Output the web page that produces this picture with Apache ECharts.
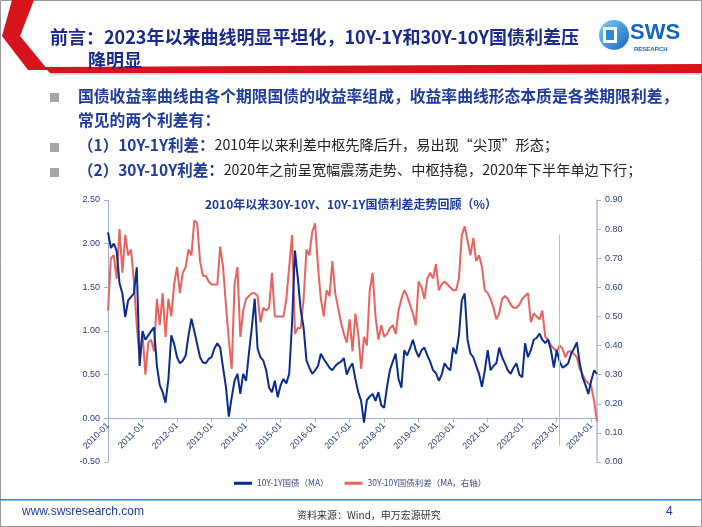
<!DOCTYPE html>
<html><head><meta charset="utf-8">
<script src="https://cdn.jsdelivr.net/npm/echarts@6/dist/echarts.min.js"></script>
<style>html,body{margin:0;padding:0;background:#fff}#c{width:702px;height:527px}</style>
</head><body><div id="c"></div>
<script>
// month categories 2010-01 .. 2024-03
const months = [];
for (let y = 2010; y <= 2024; y++) { for (let m = 1; m <= 12; m++) { if (y === 2024 && m > 3) break; months.push(y + '-' + (m < 10 ? '0' + m : m)); } }

const spread10y1y = [
2.13,1.95,2.00,1.92,1.55,1.43,1.16,1.35,1.39,1.43,
1.73,0.60,1.00,0.90,0.95,1.00,1.04,0.60,0.38,0.30,
0.18,0.45,0.95,0.85,0.70,0.63,0.66,0.72,0.95,1.14,
1.00,0.85,0.70,0.64,0.63,0.68,0.70,0.80,0.86,0.81,
0.58,0.36,0.02,0.24,0.43,0.51,0.28,0.51,0.43,0.75,
1.04,1.37,0.80,0.70,0.66,0.55,0.35,0.30,0.43,0.24,
0.38,0.45,0.40,0.51,1.10,1.92,1.60,1.24,1.04,0.66,
0.58,0.51,0.55,0.60,0.74,0.68,0.63,0.58,0.55,0.60,
0.63,0.65,0.69,0.50,0.58,0.63,0.45,0.30,0.20,-0.05,
0.21,0.25,0.28,0.20,0.30,0.15,0.12,0.36,0.55,0.65,
0.74,0.45,0.35,0.78,0.72,0.80,0.90,0.78,0.70,0.78,
0.81,0.72,0.65,0.55,0.52,0.43,0.50,0.63,0.58,0.55,
0.81,0.74,0.95,1.35,1.43,0.90,0.74,0.70,0.60,0.51,
0.36,0.55,0.78,0.55,0.60,0.63,0.81,0.70,0.63,0.55,
0.51,0.58,0.63,0.50,0.47,0.86,0.70,0.78,0.90,0.92,
0.97,0.90,0.86,0.90,0.78,0.58,0.78,0.65,0.58,0.60,
0.63,0.74,0.80,0.87,0.63,0.47,0.38,0.28,0.43,0.55,
0.51];

const spread30y10y = [
0.52,0.70,0.71,0.63,0.80,0.65,0.78,0.71,0.73,0.62,
0.47,0.35,0.44,0.30,0.41,0.42,0.38,0.56,0.47,0.58,
0.43,0.56,0.50,0.61,0.67,0.58,0.65,0.67,0.73,0.71,
0.83,0.82,0.69,0.64,0.64,0.62,0.61,0.61,0.61,0.74,
0.67,0.54,0.42,0.32,0.61,0.67,0.43,0.52,0.56,0.57,
0.58,0.58,0.57,0.48,0.53,0.52,0.53,0.65,0.50,0.50,
0.50,0.50,0.56,0.67,0.78,0.44,0.46,0.46,0.56,0.73,
0.71,0.79,0.82,0.67,0.56,0.50,0.59,0.57,0.69,0.58,
0.53,0.48,0.44,0.41,0.49,0.38,0.51,0.44,0.32,0.43,
0.40,0.59,0.65,0.50,0.42,0.47,0.43,0.44,0.46,0.47,
0.44,0.52,0.56,0.59,0.57,0.54,0.51,0.47,0.62,0.60,
0.56,0.63,0.65,0.63,0.68,0.59,0.61,0.62,0.61,0.60,
0.59,0.59,0.63,0.78,0.81,0.76,0.71,0.77,0.69,0.71,
0.67,0.59,0.58,0.56,0.53,0.49,0.51,0.56,0.57,0.56,
0.54,0.53,0.53,0.54,0.56,0.57,0.58,0.48,0.51,0.50,
0.49,0.52,0.43,0.42,0.40,0.39,0.38,0.40,0.39,0.36,
0.38,0.38,0.37,0.36,0.32,0.30,0.28,0.27,0.26,0.21,
0.14];

const seriesNames = ['10Y-1Y国债（MA）', '30Y-10Y国债利差（MA，右轴）'];
const markMonth = '2023-02';

const CJK = '"Noto Sans CJK SC", "Noto Sans", sans-serif';
const LAT = '"Liberation Sans", Arial, sans-serif';
const NAVY = '#1f3c99';
const axisClr = '#9fb0d2';
const lblClr = '#2b3d7d';

const chart = echarts.init(document.getElementById('c'), null, {renderer: 'canvas'});
chart.setOption({
  animation: false,
  backgroundColor: '#fff',
  title: {
    text: '2010年以来30Y-10Y、10Y-1Y国债利差走势回顾（%）',
    left: 'center', top: 193,
    textStyle: {fontFamily: CJK, fontSize: 12, fontWeight: 'bold', color: '#1b3a9c'}
  },
  legend: {
    left: 229, top: 474, itemWidth: 18, itemHeight: 3, itemGap: 16,
    icon: 'rect',
    textStyle: {fontFamily: CJK, fontSize: 8.5, color: '#3b4a7d'},
    data: seriesNames
  },
  grid: {left: 108, right: 105, top: 200, bottom: 65},
  xAxis: {
    type: 'category', data: months, boundaryGap: false, position: 'bottom', offset: -43.7,
    axisLine: {onZero: false, lineStyle: {color: axisClr, width: 1}},
    axisTick: {show: true, interval: 11, length: 4, lineStyle: {color: axisClr}},
    axisLabel: {interval: 11, rotate: 45, fontSize: 9, color: lblClr, fontFamily: LAT, margin: 6},
    splitLine: {show: false}
  },
  yAxis: [
    {type: 'value', min: -0.5, max: 2.5, interval: 0.5,
     axisLine: {show: true, lineStyle: {color: axisClr}},
     axisTick: {show: true, length: 4, lineStyle: {color: axisClr}},
     axisLabel: {formatter: v => v.toFixed(2), fontSize: 9, color: lblClr, fontFamily: LAT, margin: 8},
     splitLine: {show: false}},
    {type: 'value', min: 0, max: 0.9, interval: 0.1,
     axisLine: {show: true, lineStyle: {color: '#a9bde0', width: 1.5}},
     axisTick: {show: true, length: 4, lineStyle: {color: axisClr}},
     axisLabel: {formatter: v => v.toFixed(2), fontSize: 9, color: lblClr, fontFamily: LAT, margin: 8},
     splitLine: {show: false}}
  ],
  series: [
    {name: seriesNames[1], type: 'line', yAxisIndex: 1, data: spread30y10y, symbol: 'none',
     lineStyle: {color: '#e8625e', width: 2}, itemStyle: {color: '#e8625e'}, z: 2},
    {name: seriesNames[0], type: 'line', yAxisIndex: 0, data: spread10y1y, symbol: 'none',
     lineStyle: {color: '#0b2c8f', width: 2}, itemStyle: {color: '#0b2c8f'}, z: 3,
     markLine: {silent: true, symbol: 'none', label: {show: false},
       lineStyle: {color: '#c4c47a', width: 1, type: 'solid'},
       data: [[{coord: [markMonth, 2.10]}, {coord: [markMonth, -0.31]}]]}}
  ],
  graphic: [
    {type: 'rect', shape: {x: 0.5, y: 0.5, width: 701, height: 526}, style: {fill: 'none', stroke: '#9a9a9a', lineWidth: 1}, z: -10},
    {type: 'polygon', shape: {points: [[12,0],[34,0],[20,36],[48,70],[28,70],[2,36]]}, style: {fill: '#d7141c'}},
    {type: 'polygon', shape: {points: [[44,67],[702,64],[702,73],[50,73]]}, style: {fill: '#d7141c'}},
    {type: 'rect', shape: {x: 50, y: 73, width: 652, height: 2}, style: {fill: '#d9d9d9'}},
    {type: 'text', left: 50, top: 28, style: {text: '前言：2023年以来曲线明显平坦化，10Y-1Y和30Y-10Y国债利差压', fontFamily: CJK, fontSize: 18, fontWeight: 'bold', fill: '#1a2a8a'}},
    {type: 'text', left: 88, top: 51, style: {text: '降明显', fontFamily: CJK, fontSize: 18, fontWeight: 'bold', fill: '#1a2a8a'}},
    // logo
    {type: 'circle', shape: {cx: 614, cy: 35, r: 15}, style: {fill: new echarts.graphic.LinearGradient(0,0,1,1,[{offset:0,color:'#7fd0f5'},{offset:1,color:'#1565c0'}])}},
    {type: 'rect', shape: {x: 603, y: 27, width: 14, height: 16}, style: {fill: '#fff'}},
    {type: 'rect', shape: {x: 606, y: 30, width: 8, height: 10}, style: {fill: '#2a8ad6'}},
    {type: 'text', left: 630, top: 22, style: {text: 'SWS', fontFamily: LAT, fontSize: 22, fontWeight: 'bold', fill: '#1565c0'}},
    {type: 'text', left: 634, top: 46, style: {text: 'RESEARCH', fontFamily: LAT, fontSize: 6, fontWeight: 'bold', fill: '#1565c0'}},
    // bullets
    {type: 'rect', shape: {x: 50, y: 93, width: 9, height: 9}, style: {fill: '#a6a6a6'}},
    {type: 'rect', shape: {x: 50, y: 143, width: 9, height: 9}, style: {fill: '#a6a6a6'}},
    {type: 'rect', shape: {x: 50, y: 168, width: 9, height: 9}, style: {fill: '#a6a6a6'}},
    {type: 'text', left: 78, top: 88, style: {text: '国债收益率曲线由各个期限国债的收益率组成，收益率曲线形态本质是各类期限利差，', fontFamily: CJK, fontSize: 15.8, fontWeight: 'bold', fill: NAVY}},
    {type: 'text', left: 78, top: 112, style: {text: '常见的两个利差有：', fontFamily: CJK, fontSize: 15.8, fontWeight: 'bold', fill: NAVY}},
    {type: 'text', left: 78, top: 137, style: {text: '{b|（1）10Y-1Y利差：}{n|2010年以来利差中枢先降后升，易出现“尖顶”形态；}',
      rich: {b: {fontFamily: CJK, fontSize: 15.5, fontWeight: 'bold', fill: NAVY, color: NAVY}, n: {fontFamily: CJK, fontSize: 14.2, fill: '#222', color: '#222'}}}},
    {type: 'text', left: 78, top: 162, style: {text: '{b|（2）30Y-10Y利差：}{n|2020年之前呈宽幅震荡走势、中枢持稳，2020年下半年单边下行；}',
      rich: {b: {fontFamily: CJK, fontSize: 15.5, fontWeight: 'bold', fill: NAVY, color: NAVY}, n: {fontFamily: CJK, fontSize: 14.2, fill: '#222', color: '#222'}}}},
    // footer
    {type: 'rect', shape: {x: 0, y: 499, width: 702, height: 1.5}, style: {fill: '#2f8bd9'}},
    {type: 'text', left: 22, top: 506, style: {text: 'www.swsresearch.com', fontFamily: LAT, fontSize: 12, fill: '#1f3c99'}},
    {type: 'text', left: 666, top: 506, style: {text: '4', fontFamily: LAT, fontSize: 12, fill: '#1f3c99'}},
    {type: 'text', left: 297, top: 510, style: {text: '资料来源：Wind，申万宏源研究', fontFamily: CJK, fontSize: 10, fill: '#333'}}
  ]
});
</script></body></html>
